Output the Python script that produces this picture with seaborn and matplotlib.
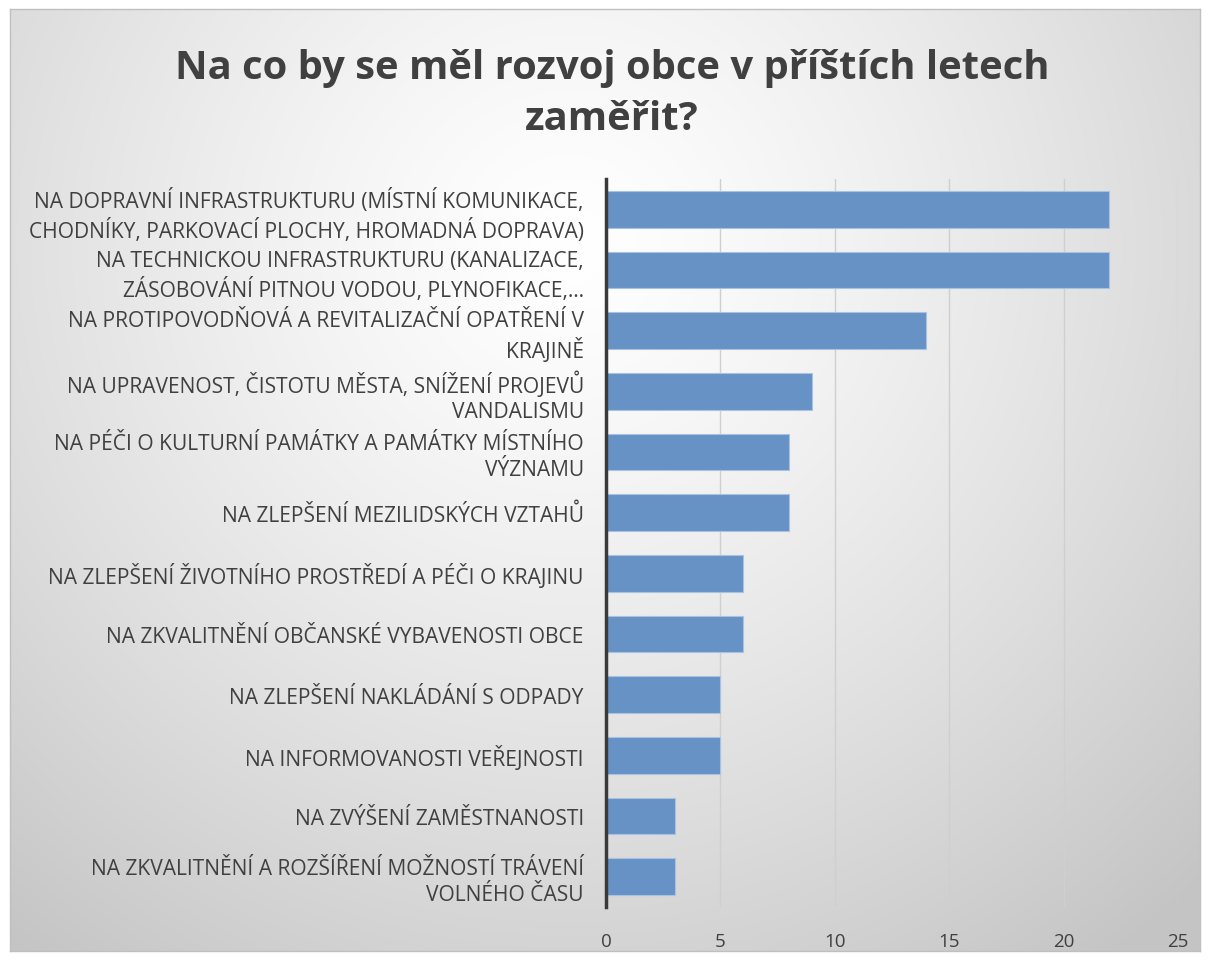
import numpy as np
import pandas as pd
import matplotlib
matplotlib.use("Agg")
import matplotlib.pyplot as plt
import seaborn as sns

categories = [
    "NA DOPRAVNÍ INFRASTRUKTURU (MÍSTNÍ KOMUNIKACE,\nCHODNÍKY, PARKOVACÍ PLOCHY, HROMADNÁ DOPRAVA)",
    "NA TECHNICKOU INFRASTRUKTURU (KANALIZACE,\nZÁSOBOVÁNÍ PITNOU VODOU, PLYNOFIKACE,…",
    "NA PROTIPOVODŇOVÁ A REVITALIZAČNÍ OPATŘENÍ V\nKRAJINĚ",
    "NA UPRAVENOST, ČISTOTU MĚSTA, SNÍŽENÍ PROJEVŮ\nVANDALISMU",
    "NA PÉČI O KULTURNÍ PAMÁTKY A PAMÁTKY MÍSTNÍHO\nVÝZNAMU",
    "NA ZLEPŠENÍ MEZILIDSKÝCH VZTAHŮ",
    "NA ZLEPŠENÍ ŽIVOTNÍHO PROSTŘEDÍ A PÉČI O KRAJINU",
    "NA ZKVALITNĚNÍ OBČANSKÉ VYBAVENOSTI OBCE",
    "NA ZLEPŠENÍ NAKLÁDÁNÍ S ODPADY",
    "NA INFORMOVANOSTI VEŘEJNOSTI",
    "NA ZVÝŠENÍ ZAMĚSTNANOSTI",
    "NA ZKVALITNĚNÍ A ROZŠÍŘENÍ MOŽNOSTÍ TRÁVENÍ\nVOLNÉHO ČASU",
]
values = [22, 22, 14, 9, 8, 8, 6, 6, 5, 5, 3, 3]
x_ticks = [0, 5, 10, 15, 20, 25]
title = "Na co by se měl rozvoj obce v příštích letech\nzaměřit?"

sns.set_theme(style="white")
plt.rcParams["font.family"] = ["Open Sans", "DejaVu Sans"]

W, H = 1209, 962
fig = plt.figure(figsize=(W / 100, H / 100), dpi=100)
fig.patch.set_facecolor("white")

# background panel with radial gradient
bx0, by0, bx1, by1 = 10, 10, 1200, 952
bg = fig.add_axes([bx0 / W, 1 - by1 / H, (bx1 - bx0) / W, (by1 - by0) / H], zorder=0)
ny, nx = 300, 380
yy, xx = np.mgrid[0:1:ny * 1j, 0:1:nx * 1j]
cx, cy = 0.47, 0.25
d = np.sqrt(((xx - cx) * 1.25) ** 2 + (yy - cy) ** 2)
d = np.clip(d / 0.95, 0, 1)
lum = 1.0 - 0.23 * d ** 1.3
img = np.dstack([lum, lum, lum])
bg.imshow(img, extent=[0, 1, 1, 0], aspect="auto", interpolation="bicubic")
bg.set_xlim(0, 1)
bg.set_ylim(1, 0)
bg.set_xticks([])
bg.set_yticks([])
for s in bg.spines.values():
    s.set_color("#bfbfbf")
    s.set_linewidth(1.0)

# main axes
left, right, top, bottom = 606, 1178, 180, 908
ax = fig.add_axes([left / W, 1 - bottom / H, (right - left) / W, (bottom - top) / H], zorder=1)
ax.set_facecolor("none")

df = pd.DataFrame({"cat": categories, "val": values})
sns.barplot(data=df, x="val", y="cat", orient="h", color="#6792c6", saturation=1,
            width=0.6, ax=ax, edgecolor="#a9c2e2", linewidth=0.8, zorder=3)

ax.set_xlim(0, 25)
ax.set_xticks(x_ticks)
ax.set_xlabel("")
ax.set_ylabel("")
ax.xaxis.grid(True, color="#cfcfcf", linewidth=1.0)
ax.set_axisbelow(True)
for k in ["top", "right", "bottom"]:
    ax.spines[k].set_visible(False)
ax.spines["left"].set_color("#3a3a3a")
ax.spines["left"].set_linewidth(2.5)
ax.spines["left"].set_zorder(5)
ax.tick_params(axis="x", length=0, pad=18, labelsize=13.5, labelcolor="#404040")
ax.tick_params(axis="y", length=0, pad=16, labelsize=15.1, labelcolor="#404040")
for t in ax.get_yticklabels():
    t.set_linespacing(1.3)
    t.set_horizontalalignment("right")
    t.set_multialignment("right")

fig.text(612 / W, 1 - 94 / H, title, ha="center", va="center", fontsize=28.8,
         fontweight="bold", color="#404040", linespacing=1.42)

fig.savefig("out.png", dpi=100)
